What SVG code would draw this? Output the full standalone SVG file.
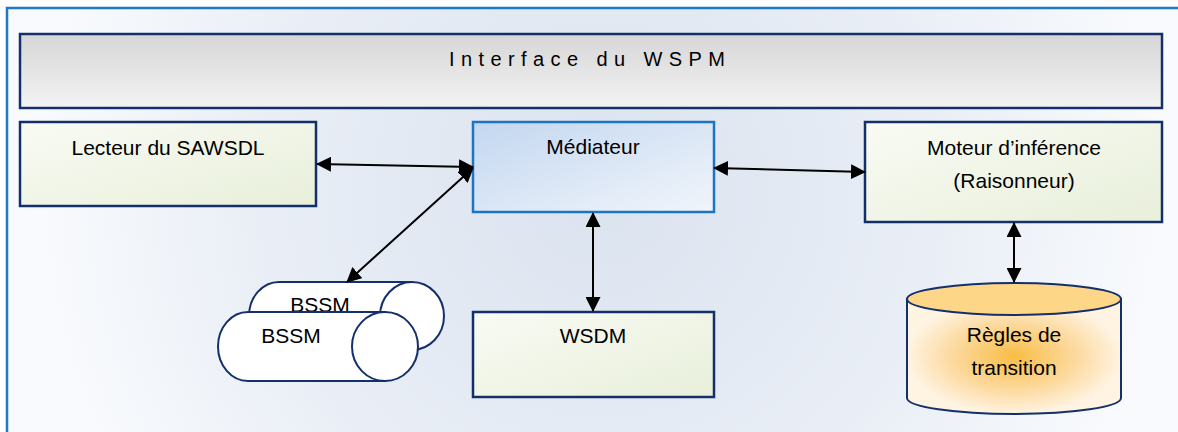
<svg xmlns="http://www.w3.org/2000/svg" width="1178" height="432" viewBox="0 0 1178 432">
<defs>
<radialGradient id="bg" gradientUnits="userSpaceOnUse" cx="600" cy="190" r="560">
<stop offset="0" stop-color="#DBE3EF"/>
<stop offset="0.6" stop-color="#E9EEF6"/>
<stop offset="1" stop-color="#F8FAFD"/>
</radialGradient>
<linearGradient id="grey" x1="0" y1="0" x2="0" y2="1">
<stop offset="0" stop-color="#D6D6D6"/>
<stop offset="1" stop-color="#F3F3F3"/>
</linearGradient>
<linearGradient id="green" x1="0" y1="0" x2="1" y2="1">
<stop offset="0" stop-color="#F9FBF4"/>
<stop offset="1" stop-color="#E8EFDA"/>
</linearGradient>
<linearGradient id="blue" x1="0" y1="0" x2="1" y2="1">
<stop offset="0" stop-color="#C3D7F0"/>
<stop offset="1" stop-color="#F1F5FB"/>
</linearGradient>
<radialGradient id="orange" cx="0.5" cy="0.5" r="0.5">
<stop offset="0" stop-color="#F9BD45"/>
<stop offset="0.55" stop-color="#FCD89A"/>
<stop offset="1" stop-color="#FFF3E1"/>
</radialGradient>
<marker id="arr" viewBox="0 0 15 15" refX="14" refY="7.5" markerWidth="15" markerHeight="15" markerUnits="userSpaceOnUse" orient="auto-start-reverse">
<path d="M0,0 L15,7.5 L0,15 Z" fill="#000"/>
</marker>
</defs>
<style>
.lbl{font-family:"Liberation Sans",Arial,sans-serif;font-size:21px;fill:#000;text-anchor:middle}
.box{stroke:#14306B;stroke-width:2.5}
.conn{stroke:#000;stroke-width:2;fill:none;marker-start:url(#arr);marker-end:url(#arr)}
.cyl{fill:#fff;stroke:#14306B;stroke-width:2}
</style>
<rect x="7" y="8" width="1180" height="440" fill="url(#bg)" stroke="#1F78C8" stroke-width="2.5"/>
<g id="interface">
<rect class="box" x="20" y="34" width="1142" height="74" fill="url(#grey)"/>
<text x="449" y="66" style="font-family:'Liberation Sans',Arial,sans-serif;font-size:20px;letter-spacing:6.4px" fill="#000">Interface du WSPM</text>
</g>
<g id="lecteur">
<rect class="box" x="20" y="122" width="296" height="84" fill="url(#green)"/>
<text class="lbl" x="168" y="155">Lecteur du SAWSDL</text>
</g>
<g id="mediateur">
<rect x="473" y="122" width="241" height="90" fill="url(#blue)" stroke="#1B75C4" stroke-width="2.5"/>
<text class="lbl" x="593" y="154">Médiateur</text>
</g>
<g id="moteur">
<rect class="box" x="865" y="122" width="297" height="100" fill="url(#green)"/>
<text class="lbl" x="1014" y="155">Moteur d’inférence</text>
<text class="lbl" x="1014" y="188">(Raisonneur)</text>
</g>
<g id="wsdm">
<rect class="box" x="473" y="312" width="241" height="85" fill="url(#green)"/>
<text class="lbl" x="593" y="343">WSDM</text>
</g>
<g id="bssm1">
<path class="cyl" d="M412,282 L279,282 A30,34 0 0 0 279,350 L412,350 Z"/>
<ellipse class="cyl" cx="412" cy="316" rx="32" ry="34"/>
<text class="lbl" x="320" y="312">BSSM</text>
</g>
<g id="bssm2">
<path class="cyl" d="M385,312 L248,312 A30,34.5 0 0 0 248,381 L385,381 Z"/>
<ellipse class="cyl" cx="385" cy="346.5" rx="33" ry="34.5"/>
<text class="lbl" x="291" y="343">BSSM</text>
</g>
<g id="regles">
<path d="M907,299 L907,398 A107,16 0 0 0 1121,398 L1121,299 Z" fill="url(#orange)" stroke="#14306B" stroke-width="2"/>
<ellipse cx="1014" cy="299" rx="107" ry="16" fill="#FDD688" stroke="#14306B" stroke-width="2"/>
<text class="lbl" x="1014" y="342">Règles de</text>
<text class="lbl" x="1014" y="375">transition</text>
</g>
<g id="connectors">
<line class="conn" x1="317" y1="164" x2="473" y2="167"/>
<line class="conn" x1="473" y1="168" x2="347" y2="282"/>
<line class="conn" x1="593" y1="213" x2="593" y2="311"/>
<line class="conn" x1="714" y1="168" x2="865" y2="172"/>
<line class="conn" x1="1014" y1="223" x2="1014" y2="282"/>
</g>
</svg>
